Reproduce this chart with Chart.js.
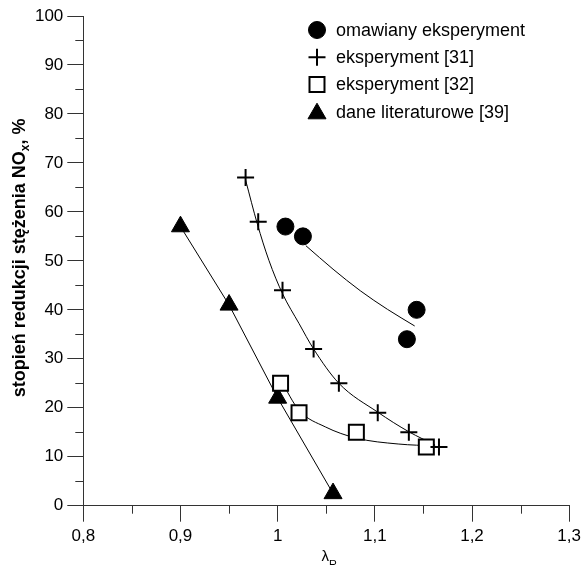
<!DOCTYPE html>
<html><head><meta charset="utf-8">
<script src="https://cdn.jsdelivr.net/npm/chart.js@4/dist/chart.umd.min.js"></script>
<style>html,body{margin:0;padding:0;background:#fff}canvas{display:block}</style>
</head><body>
<canvas id="c" width="585" height="565"></canvas>
<script>
// ---- data ----
const seriesLabels = ['omawiany eksperyment', 'eksperyment [31]', 'eksperyment [32]', 'dane literaturowe [39]'];

const circleX = [1.008, 1.026, 1.143, 1.133];
const circleY = [57, 55, 40, 34];

const crossX = [0.967, 0.980, 1.005, 1.037, 1.063, 1.103, 1.135, 1.166];
const crossY = [67, 58, 44, 32, 25, 19, 15, 12];

const squareX = [1.003, 1.022, 1.081, 1.153];
const squareY = [25, 19, 15, 12];

const triangleX = [0.900, 0.950, 1.000, 1.057];
const triangleY = [57, 41, 22, 2.5];

// fitted curves
const circleFitX = [1.029, 1.057, 1.085, 1.113, 1.141];
const circleFitY = [53.1, 48.3, 43.9, 40.1, 36.7];

const crossFitX = [0.967, 0.979, 0.991, 1.005, 1.022, 1.037, 1.063, 1.103, 1.135, 1.162];
const crossFitY = [66.5, 57.6, 50.1, 43.3, 37.2, 32.0, 25.0, 19.1, 15.1, 12.4];

const squareFitX = [1.003, 1.022, 1.049, 1.081, 1.124, 1.162];
const squareFitY = [25.7, 19.5, 16.1, 13.8, 12.6, 12.2];

const triangleFitX = [0.900, 0.950, 1.000, 1.057];
const triangleFitY = [57, 41, 22, 2.5];

const xTicks = [0.8, 0.9, 1.0, 1.1, 1.2, 1.3];
const xTickLabels = ['0,8', '0,9', '1', '1,1', '1,2', '1,3'];
const xMinorTicks = [0.85, 0.95, 1.05, 1.15, 1.25];
const yTicks = [0, 10, 20, 30, 40, 50, 60, 70, 80, 90, 100];
const yTickLabels = ['0', '10', '20', '30', '40', '50', '60', '70', '80', '90', '100'];
const yMinorTicks = [5, 15, 25, 35, 45, 55, 65, 75, 85, 95];

const yTitleParts = ['stopień redukcji stężenia NO', 'x', ', %'];
const xTitleParts = ['λ', 'R'];

// ---- helpers ----
const pts = (xs, ys) => xs.map((x, i) => ({ x: x, y: ys[i] }));
const FONT = "'Liberation Sans', Arial, sans-serif";
const AXIS = '#333';

const markerStyles = [
  { pointStyle: 'circle', radius: 8.5, fill: '#000', stroke: '#000', bw: 1 },
  { pointStyle: 'cross', radius: 8.5, fill: '#000', stroke: '#000', bw: 2 },
  { pointStyle: 'rect', radius: 10.6, fill: '#fff', stroke: '#000', bw: 2 },
  { pointStyle: 'triangle', radius: 10.4, fill: '#000', stroke: '#000', bw: 1 }
];

function markerDataset(i, data) {
  const m = markerStyles[i];
  return {
    label: seriesLabels[i], data: data, showLine: false, order: 0,
    pointStyle: m.pointStyle, pointRadius: m.radius, pointHoverRadius: m.radius,
    pointBackgroundColor: m.fill, pointBorderColor: m.stroke, pointBorderWidth: m.bw
  };
}
function fitDataset(data) {
  return {
    label: 'fit', data: data, showLine: true, order: 1, pointRadius: 0,
    borderColor: '#000', borderWidth: 1, cubicInterpolationMode: 'monotone', fill: false
  };
}

const extras = {
  id: 'extras',
  afterDraw(chart) {
    const ctx = chart.ctx;
    const xs = chart.scales.x, ys = chart.scales.y;
    const a = chart.chartArea;
    ctx.save();
    // minor ticks
    ctx.strokeStyle = AXIS; ctx.lineWidth = 1;
    ctx.beginPath();
    xMinorTicks.forEach(v => {
      const px = Math.round(xs.getPixelForValue(v)) + 0.5;
      ctx.moveTo(px, a.bottom); ctx.lineTo(px, a.bottom + 8);
    });
    yMinorTicks.forEach(v => {
      const py = Math.round(ys.getPixelForValue(v)) + 0.5;
      ctx.moveTo(a.left - 8, py); ctx.lineTo(a.left, py);
    });
    ctx.stroke();

    // y title (rotated, bold, with subscript)
    ctx.fillStyle = '#000';
    ctx.textBaseline = 'alphabetic';
    const big = 'bold 18px ' + FONT, small = 'bold 12px ' + FONT;
    ctx.font = big; const w0 = ctx.measureText(yTitleParts[0]).width;
    const w2 = ctx.measureText(yTitleParts[2]).width;
    ctx.font = small; const w1 = ctx.measureText(yTitleParts[1]).width;
    const total = w0 + w1 + w2;
    const cy = (a.top + a.bottom) / 2 - 3;
    ctx.translate(25, cy);
    ctx.rotate(-Math.PI / 2);
    let x0 = -total / 2;
    ctx.textAlign = 'left';
    ctx.font = big; ctx.fillText(yTitleParts[0], x0, 0);
    ctx.font = small; ctx.fillText(yTitleParts[1], x0 + w0, 4);
    ctx.font = big; ctx.fillText(yTitleParts[2], x0 + w0 + w1, 0);
    ctx.setTransform(1, 0, 0, 1, 0, 0);

    // x title
    const cx = (a.left + a.right) / 2;
    ctx.font = '15px ' + FONT;
    const lw = ctx.measureText(xTitleParts[0]).width;
    ctx.font = '11px ' + FONT;
    const rw = ctx.measureText(xTitleParts[1]).width;
    const sx = cx - (lw + rw) / 2 + 3;
    ctx.font = '15px ' + FONT; ctx.fillText(xTitleParts[0], sx, 561);
    ctx.font = '11px ' + FONT; ctx.fillText(xTitleParts[1], sx + lw, 568);

    // legend
    const lx = 317, ly0 = 30, dy = 27.2;
    ctx.font = '18px ' + FONT; ctx.textBaseline = 'middle'; ctx.textAlign = 'left';
    seriesLabels.forEach((lab, i) => {
      const m = markerStyles[i];
      const yy = ly0 + i * dy;
      ctx.fillStyle = m.fill; ctx.strokeStyle = m.stroke; ctx.lineWidth = m.bw;
      Chart.helpers.drawPoint(ctx, { pointStyle: m.pointStyle, radius: m.radius, rotation: 0, borderWidth: m.bw }, lx, yy + (i === 3 ? 2 : 0));
      ctx.fillStyle = '#000';
      ctx.fillText(lab, 336, yy + 1);
    });
    ctx.restore();
  }
};

new Chart(document.getElementById('c'), {
  type: 'scatter',
  data: {
    datasets: [
      markerDataset(0, pts(circleX, circleY)),
      markerDataset(1, pts(crossX, crossY)),
      markerDataset(2, pts(squareX, squareY)),
      markerDataset(3, pts(triangleX, triangleY)),
      fitDataset(pts(circleFitX, circleFitY)),
      fitDataset(pts(crossFitX, crossFitY)),
      fitDataset(pts(squareFitX, squareFitY)),
      Object.assign(fitDataset(pts(triangleFitX, triangleFitY)), { cubicInterpolationMode: 'default', tension: 0 })
    ]
  },
  options: {
    responsive: false, animation: false, devicePixelRatio: 1,
    layout: { padding: { left: 0, right: 13, top: 16, bottom: 0 } },
    plugins: { legend: { display: false }, tooltip: { enabled: false } },
    scales: {
      x: {
        type: 'linear', min: 0.8, max: 1.3,
        afterFit: s => { s.height = 59.3; },
        afterBuildTicks: s => { s.ticks = xTicks.map(v => ({ value: v })); },
        ticks: { callback: (v, i) => xTickLabels[i], autoSkip: false, maxRotation: 0, color: '#000', padding: 4, font: { family: FONT, size: 17 } },
        grid: { drawOnChartArea: false, drawTicks: true, tickLength: 16, tickColor: AXIS, tickWidth: 1 },
        border: { display: true, color: AXIS, width: 1 }
      },
      y: {
        type: 'linear', min: 0, max: 100,
        afterFit: s => { s.width = 83.3; },
        afterBuildTicks: s => { s.ticks = yTicks.map(v => ({ value: v })); },
        ticks: { callback: (v, i) => yTickLabels[i], autoSkip: false, color: '#000', padding: 4, font: { family: FONT, size: 17 } },
        grid: { drawOnChartArea: false, drawTicks: true, tickLength: 16, tickColor: AXIS, tickWidth: 1 },
        border: { display: true, color: AXIS, width: 1 }
      }
    }
  },
  plugins: [extras]
});
</script>
</body></html>
